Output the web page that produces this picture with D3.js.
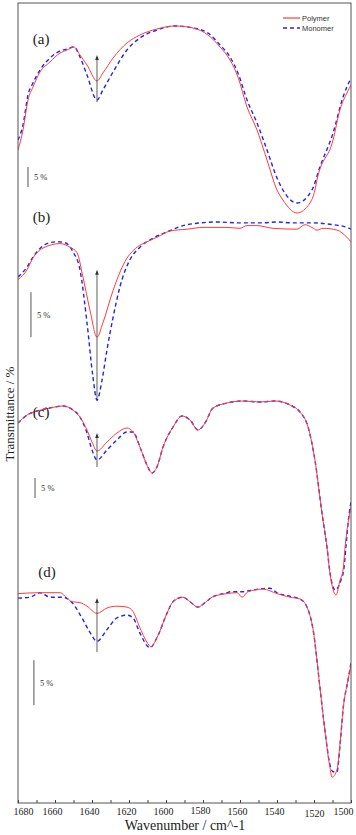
<!DOCTYPE html>
<html><head><meta charset="utf-8">
<script src="https://cdn.jsdelivr.net/npm/d3@7"></script>
<style>body{margin:0;background:#fff}svg{display:block}</style>
</head><body>
<script>
// Wavenumber (cm^-1), transmittance (%) per panel (offset stacked)
const polymerA = [[1680,74.0],[1677.3,79.0],[1674.6,86.5],[1671.9,89.75],[1668.1,93.5],[1662.7,96.0],[1657.3,98.25],[1653.5,99.0],[1649.7,99.75],[1646.5,97.75],[1642.7,95.25],[1637.3,91.25],[1634.1,93.25],[1628.6,97.0],[1621.1,100.75],[1614.1,102.75],[1604.9,104.25],[1595.1,105],[1585.4,104.5],[1577.3,102.75],[1570.8,99.75],[1565.4,96.5],[1561.1,92.25],[1556.2,84.75],[1550.8,79.0],[1545.4,71.5],[1540,64.0],[1536.8,61.5],[1529.2,58.25],[1522.2,60.75],[1519.5,64.0],[1518.4,66.5],[1509.7,76.5],[1506,84.0],[1502.2,88.25],[1500,90.25]];
const monomerA = [[1680,76.5],[1677.3,80.25],[1674.6,87.75],[1671.9,90.75],[1668.1,94.0],[1662.7,97.0],[1657.3,98.75],[1653.5,99.25],[1649.7,99.75],[1646.5,97.25],[1642.7,92.75],[1637.3,86.5],[1634.1,89.0],[1628.6,93.5],[1621.1,99.0],[1614.1,102.0],[1604.9,104.0],[1595.1,105],[1585.4,104.5],[1577.3,103.25],[1570.8,100.25],[1565.4,97.25],[1561.1,93.25],[1556.2,86.5],[1550.8,80.75],[1545.4,74.0],[1540,67.0],[1536.8,64.0],[1529.2,60.75],[1521.1,64.0],[1516.8,69.75],[1509.7,78.25],[1504.3,87.25],[1500,92.0]];

const polymerB = [[1680,98.6],[1675.1,99.7],[1671.9,101.0],[1666.5,102.1],[1657.3,102.6],[1651.9,102.2],[1648.1,101.6],[1644.9,98.9],[1641.1,95.2],[1637.3,92.2],[1634.1,93.8],[1628.6,97.4],[1622.2,100.6],[1615.7,102.2],[1610.3,102.8],[1604.9,103.3],[1597.8,104.0],[1588.6,104.2],[1580.0,104.4],[1567.0,104.4],[1560.0,104.3],[1556.2,104.6],[1550.8,104.6],[1542.2,104.3],[1529.2,104.2],[1524.9,104.7],[1521.1,104.4],[1518.4,104.1],[1515.1,104.3],[1507.6,104.1],[1502.2,103.3],[1500,102.8]];
const monomerB = [[1680,98.9],[1675.1,100.0],[1671.9,101.1],[1664.3,102.6],[1658.9,102.8],[1654.6,102.7],[1650.3,101.7],[1646.5,99.7],[1642.7,93.8],[1639.5,87.8],[1637.3,85.2],[1634.6,87.4],[1631.9,90.8],[1628.6,94.4],[1624.9,97.8],[1619.5,100.8],[1614.1,102.2],[1607.0,103.2],[1599.5,103.9],[1588.6,104.7],[1572.4,105.0],[1560.0,104.9],[1549.2,104.9],[1540.0,105.0],[1531.4,104.9],[1520.5,104.9],[1509.7,104.7],[1502.2,104.4],[1500,104.2]];

const polymerC = [[1680,99.25],[1675.1,101.25],[1669.7,102.25],[1662.7,103.0],[1655.7,103.5],[1650.3,102.5],[1646.5,100.75],[1642.7,97.5],[1640.0,94.5],[1637.3,92.25],[1631.9,94.5],[1626.5,96.75],[1621.1,98.0],[1617.8,97.0],[1614.1,93.25],[1610.3,88.75],[1607.6,86.75],[1604.9,88.25],[1601.6,93.25],[1596.2,98.25],[1591.4,101.0],[1587.0,100.0],[1582.7,97.5],[1578.9,99.25],[1574.6,103.0],[1567.0,104.25],[1558.4,104.75],[1549.2,104.5],[1541.1,104.75],[1533.0,103.75],[1527.6,102.0],[1523.2,98.25],[1519.5,90.0],[1515.7,76.75],[1513.0,68.25],[1511.4,61.75],[1508.1,56.25],[1505.9,60.0],[1504.3,62.5],[1503.2,68.25],[1501.6,74.25],[1500,78.25]];
const monomerC = [[1680,99.25],[1675.1,101.25],[1669.7,102.25],[1662.7,103.0],[1655.7,103.5],[1650.3,102.5],[1646.5,100.75],[1642.7,96.75],[1640.0,92.5],[1637.3,90.0],[1631.9,92.5],[1626.5,95.0],[1621.1,97.0],[1617.8,97.0],[1614.1,93.25],[1610.3,88.75],[1607.6,86.75],[1604.9,88.25],[1601.6,93.25],[1596.2,98.25],[1591.4,101.0],[1587.0,100.0],[1582.7,97.5],[1578.9,99.25],[1574.6,103.0],[1567.0,104.25],[1558.4,104.75],[1549.2,104.5],[1541.1,104.75],[1533.0,103.75],[1527.6,102.0],[1523.2,98.25],[1519.5,90.0],[1515.7,76.75],[1513.0,68.25],[1511.4,62.0],[1508.6,57.5],[1505.4,60.0],[1503.8,63.0],[1502.7,68.5],[1501.4,75.0],[1500,79.5]];

const polymerD = [[1680,104.6],[1668.1,104.7],[1657.3,104.7],[1653.5,104.1],[1650.8,103.7],[1646.5,103.6],[1642.7,103.2],[1637.3,102.4],[1631.9,103.0],[1626.5,103.2],[1621.1,103.1],[1617.8,102.6],[1614.1,100.8],[1610.3,99.2],[1608.1,98.7],[1604.9,99.7],[1599.5,102.4],[1596.2,103.7],[1590.8,104.2],[1587.0,103.7],[1582.7,103.1],[1578.9,103.6],[1575.1,104.2],[1567.0,104.6],[1561.6,104.7],[1558.9,104.2],[1555.7,104.8],[1547.6,105.1],[1540.0,104.6],[1533.0,104.2],[1527.6,104.0],[1523.8,103.1],[1520.5,100.6],[1516.8,94.2],[1514.1,89.4],[1511.4,85.3],[1510.3,84.2],[1507.6,85.0],[1505.9,88.0],[1504.3,91.7],[1501.6,95.0],[1500,96.7]];
const monomerD = [[1680,104.1],[1673.5,104.2],[1668.1,104.7],[1662.7,104.2],[1655.7,104.2],[1650.8,103.6],[1644.9,101.7],[1641.1,100.3],[1637.3,99.3],[1631.9,100.6],[1626.5,101.9],[1621.1,102.2],[1617.8,101.9],[1614.1,100.2],[1608.6,98.6],[1604.9,99.7],[1599.5,102.4],[1596.2,103.7],[1590.8,104.2],[1587.0,103.7],[1582.7,103.1],[1578.9,103.6],[1575.1,104.2],[1567.0,104.7],[1565.4,104.8],[1558.9,104.8],[1555.7,104.9],[1543.8,105.2],[1540.0,104.7],[1533.0,104.3],[1527.6,104.0],[1523.8,103.1],[1520.5,100.6],[1516.8,94.2],[1514.1,89.4],[1511.4,85.6],[1509.7,84.8],[1507.6,84.8],[1505.9,87.8],[1504.3,91.7],[1501.6,95.0],[1500,96.9]];

const panelLabels = ["(a)","(b)","(c)","(d)"];
// arrow [wavenumber, from value, to value] per panel
const arrows = [[1637.3,86.0,97.75],[1637.3,85.2,99.7],[1637.3,88.25,96.75],[1637.3,98.1,104.1]];
// scale bars [wavenumber, top value] (5 % long)
const scaleBars = [[1674.6,69.75],[1673.0,97.2],[1670.8,85.5],[1671.4,97.2]];
const scaleBarText = "5 %";
const seriesNames = ["Polymer","Monomer"];
const xTicks = [1680,1670,1660,1650,1640,1630,1620,1610,1600,1590,1580,1570,1560,1550,1540,1530,1520,1510,1500];

const W=356,H=835;
const L=18,R=351,T=3,B=803;
const svg=d3.select("body").append("svg").attr("width",W).attr("height",H);
const x=d3.scaleLinear().domain([1680,1500]).range([L,R]);
// per-panel y scales: [pixel of 105 %, px per %]
const panelGeom=[[26,4],[222,9],[400,4],[590,9]];
const yScales=panelGeom.map(([y0,k])=>d3.scaleLinear().domain([105,0]).range([y0,y0+105*k]));

svg.append("defs").append("clipPath").attr("id","clip").append("rect").attr("x",L).attr("y",T).attr("width",R-L).attr("height",B-T);
const plot=svg.append("g").attr("clip-path","url(#clip)");

const data=[[polymerA,monomerA],[polymerB,monomerB],[polymerC,monomerC],[polymerD,monomerD]];
const red="#ff3b3b", blue="#2323ee";
data.forEach(([p,m],i)=>{
  const y=yScales[i];
  const line=d3.line().x(d=>x(d[0])).y(d=>y(d[1])).curve(d3.curveMonotoneX);
  plot.append("path").attr("d",line(m)).attr("fill","none").attr("stroke",blue).attr("stroke-width",1.4).attr("stroke-dasharray","4,3");
  plot.append("path").attr("d",line(p)).attr("fill","none").attr("stroke",red).attr("stroke-width",1);
  const a=arrows[i];
  const ax=x(a[0]), y1=y(a[1]), y2=y(a[2]);
  svg.append("line").attr("x1",ax).attr("x2",ax).attr("y1",y1).attr("y2",y2+2).attr("stroke","#333").attr("stroke-width",0.8);
  svg.append("path").attr("d",`M${ax},${y2} L${ax-1.8},${y2+5} L${ax+1.8},${y2+5} Z`).attr("fill","#333");
  const s=scaleBars[i];
  const sx=x(s[0]);
  svg.append("line").attr("x1",sx).attr("x2",sx).attr("y1",y(s[1])).attr("y2",y(s[1]-5)).attr("stroke","#555").attr("stroke-width",1);
  svg.append("text").attr("x",sx+6).attr("y",(y(s[1])+y(s[1]-5))/2+3).attr("font-family","Liberation Serif").attr("font-size",8.5).attr("fill","#333").text(scaleBarText);
});
const labelPos=[[1672,100.5],[1672,105],[1672,100.7],[1669,106.5]];
panelLabels.forEach((t,i)=>{
  svg.append("text").attr("x",x(labelPos[i][0])).attr("y",yScales[i](labelPos[i][1])).attr("font-family","Liberation Serif").attr("font-size",15).attr("fill","#222").text(t);
});

svg.append("rect").attr("x",L).attr("y",T).attr("width",R-L).attr("height",B-T).attr("fill","none").attr("stroke","#555").attr("stroke-width",1);

const ax=d3.axisBottom(x).tickValues(xTicks).tickSizeInner(-3).tickSizeOuter(0).tickPadding(5).tickFormat(d=>d%20===0?d:"");
const gx=svg.append("g").attr("transform",`translate(0,${B})`).call(ax);
gx.select(".domain").remove();
gx.selectAll("line").attr("stroke","#444");
const labelShift={1680:[5,0],1520:[0,2],1580:[-3,-1],1500:[-8,0]};
gx.selectAll("text").attr("font-family","Liberation Serif").attr("font-size",10).attr("fill","#222")
  .attr("dx",d=>(labelShift[d]||[-3,0])[0]).attr("transform",d=>`translate(0,${(labelShift[d]||[0,0])[1]})`);

svg.append("text").attr("x",185).attr("y",830).attr("text-anchor","middle").attr("font-family","Liberation Serif").attr("font-size",14).attr("fill","#222").text("Wavenumber / cm^-1");
svg.append("text").attr("transform","translate(14,414) rotate(-90)").attr("text-anchor","middle").attr("font-family","Liberation Serif").attr("font-size",13).attr("fill","#222").text("Transmittance / %");

const lg=svg.append("g");
lg.append("line").attr("x1",283).attr("x2",300).attr("y1",18).attr("y2",18).attr("stroke",red).attr("stroke-width",1.2);
lg.append("line").attr("x1",283).attr("x2",300).attr("y1",28).attr("y2",28).attr("stroke",blue).attr("stroke-width",1.3).attr("stroke-dasharray","4,3");
lg.selectAll("text.l").data(seriesNames).join("text").attr("x",302).attr("y",(d,i)=>21+i*10).attr("font-family","Liberation Sans").attr("font-size",7.5).attr("fill","#333").text(d=>d);
</script>
</body></html>
